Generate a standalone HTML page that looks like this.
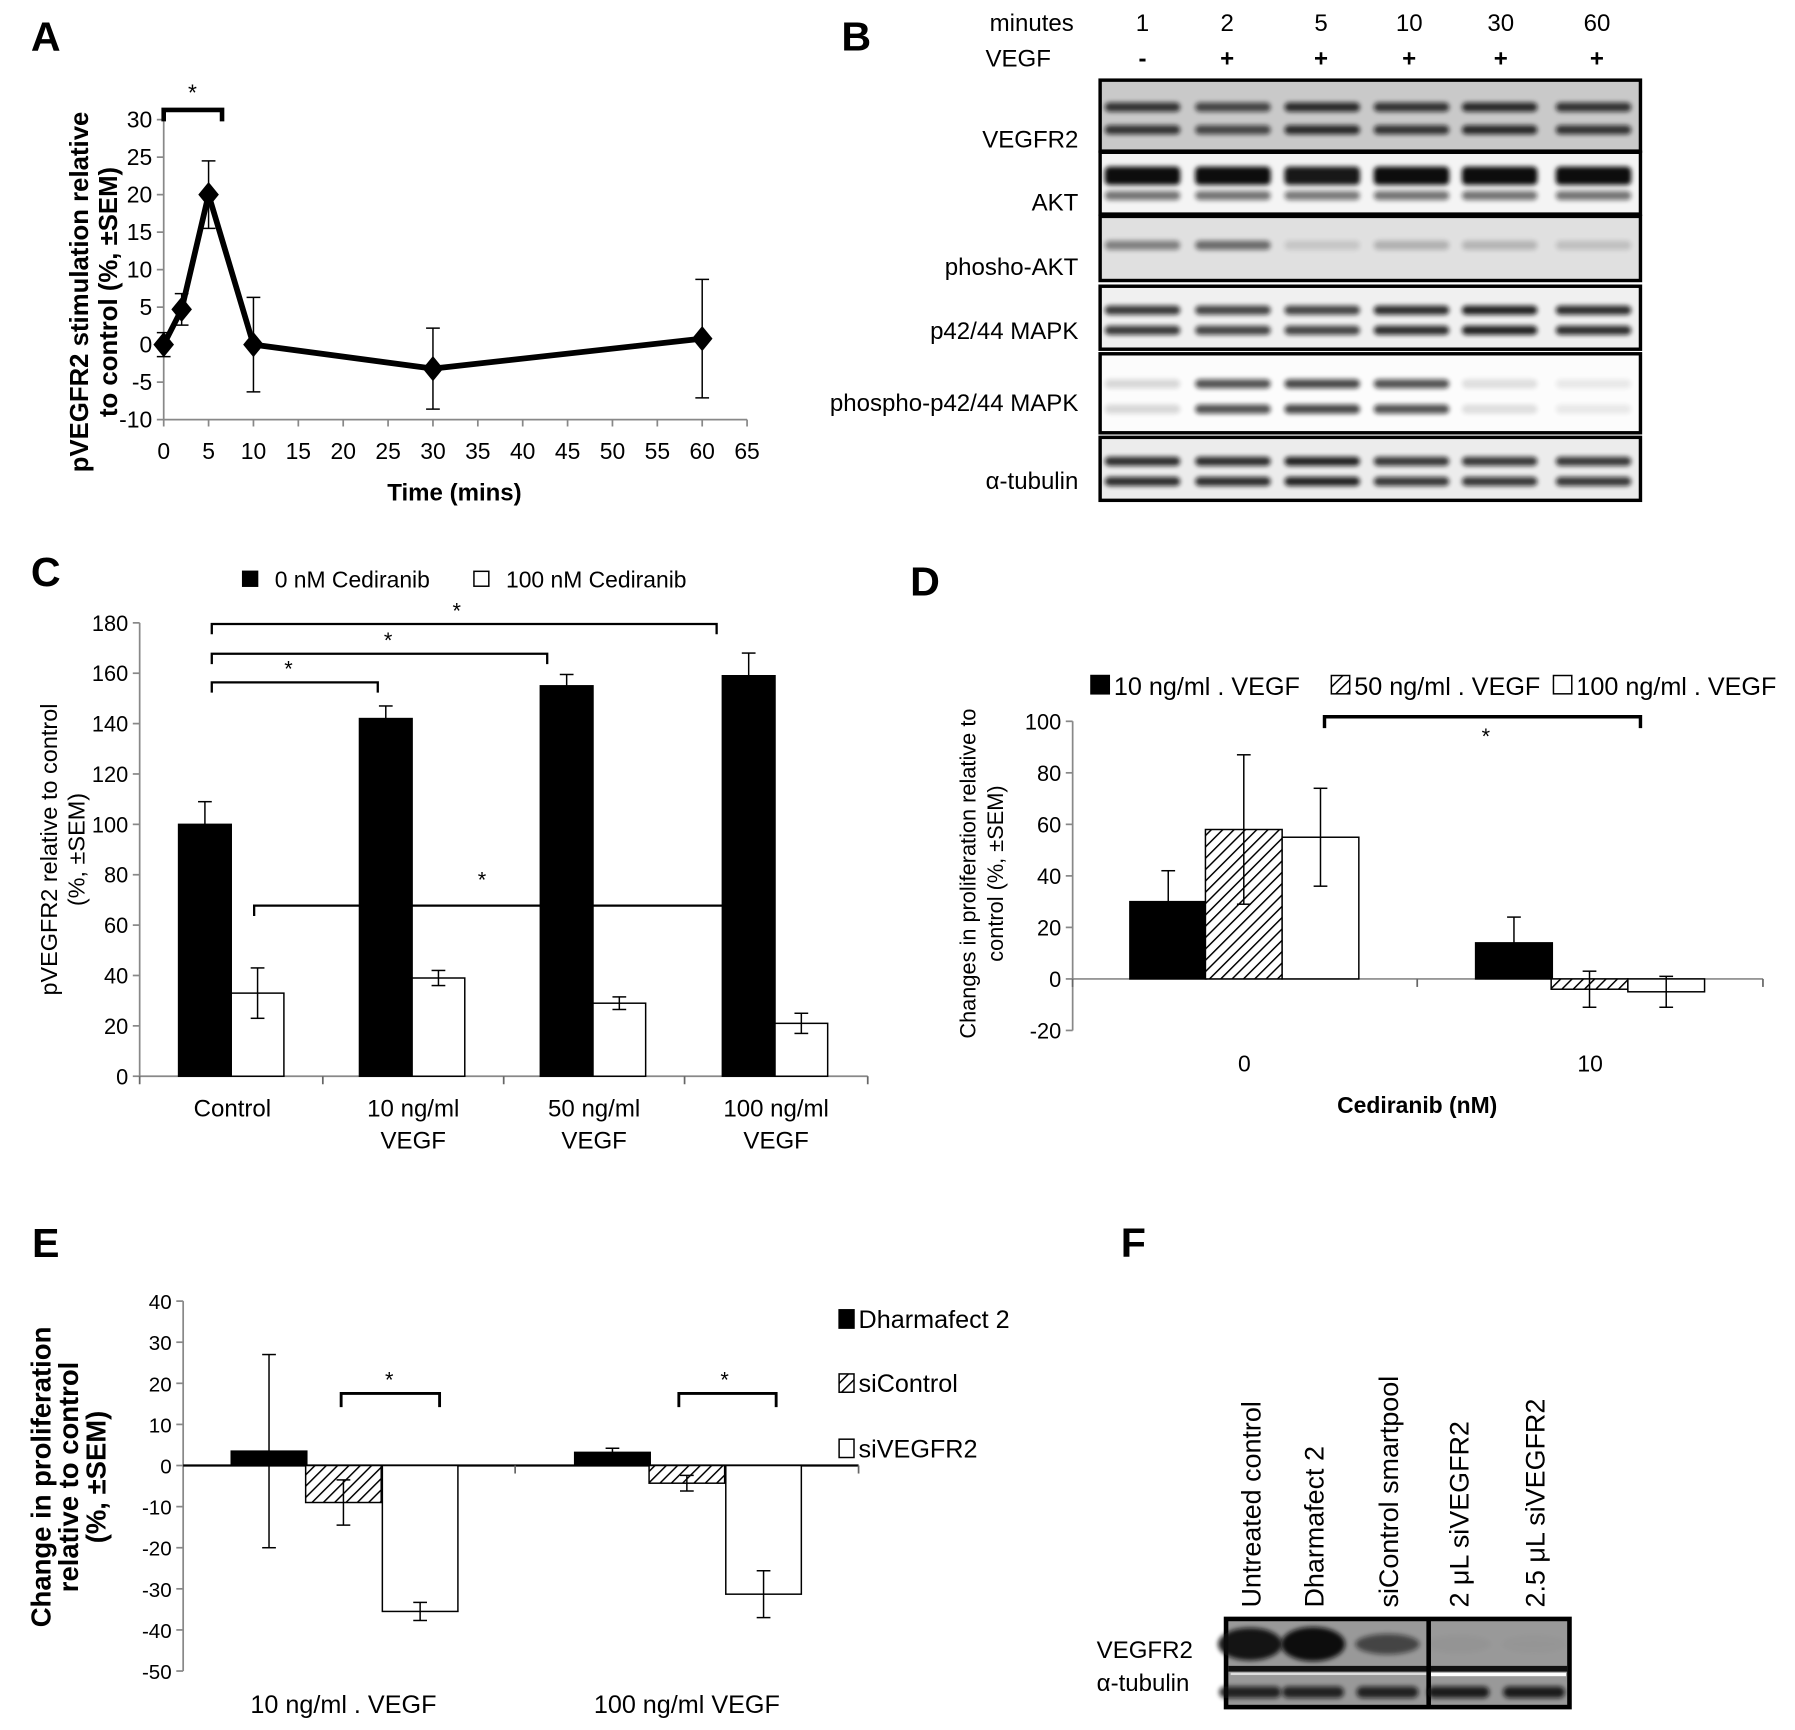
<!DOCTYPE html>
<html><head><meta charset="utf-8">
<style>
html,body{margin:0;padding:0;background:#fff;}
svg{display:block;font-family:"Liberation Sans",sans-serif;}
</style></head>
<body>
<svg id="fig" width="1795" height="1730" viewBox="0 0 1568 1511" preserveAspectRatio="none" xmlns="http://www.w3.org/2000/svg">
<defs>
<pattern id="hatch" patternUnits="userSpaceOnUse" width="7" height="7" patternTransform="rotate(45)">
<rect width="7" height="7" fill="#fff"/><line x1="0" y1="0" x2="0" y2="7" stroke="#000" stroke-width="2.6"/>
</pattern>
<filter id="blur" x="-20%" y="-50%" width="140%" height="200%"><feGaussianBlur stdDeviation="2.2"/></filter>
</defs>
<g id="root"></g>
</svg>
<script>
// ---------- Panel A data ----------
const aTimes = [0, 2, 5, 10, 30, 60];
const aValues = [0, 4.7, 20, 0, -3.2, 0.8];
const aErrors = [1.6, 2.1, 4.5, 6.3, 5.4, 7.9];
const aYTicks = [-10, -5, 0, 5, 10, 15, 20, 25, 30];
const aXTicks = [0, 5, 10, 15, 20, 25, 30, 35, 40, 45, 50, 55, 60, 65];
// ---------- Panel B data ----------
const bMinutes = ["1", "2", "5", "10", "30", "60"];
const bVegf = ["-", "+", "+", "+", "+", "+"];
const bRows = ["VEGFR2", "AKT", "phosho-AKT", "p42/44 MAPK", "phospho-p42/44 MAPK", "α-tubulin"];
const bIntensity = [
  [0.8, 0.7, 0.85, 0.8, 0.85, 0.8],
  [1, 1, 0.95, 1, 1, 1],
  [0.45, 0.55, 0.12, 0.22, 0.2, 0.15],
  [0.8, 0.75, 0.75, 0.85, 0.9, 0.85],
  [0.15, 0.7, 0.75, 0.7, 0.12, 0.08],
  [0.85, 0.85, 0.9, 0.8, 0.8, 0.8]
];
// ---------- Panel C data ----------
const cCategories = [["Control"], ["10 ng/ml", "VEGF"], ["50 ng/ml", "VEGF"], ["100 ng/ml", "VEGF"]];
const cSeriesNames = ["0 nM Cediranib", "100 nM Cediranib"];
const cValues0 = [100, 142, 155, 159];
const cErrors0 = [9, 5, 4.5, 9];
const cValues100 = [33, 39, 29, 21];
const cErrors100 = [10, 3, 2.5, 4];
const cYTicks = [0, 20, 40, 60, 80, 100, 120, 140, 160, 180];
// ---------- Panel D data ----------
const dCategories = ["0", "10"];
const dSeriesNames = ["10 ng/ml . VEGF", "50 ng/ml . VEGF", "100 ng/ml . VEGF"];
const dValues10 = [30, 14];
const dErrors10 = [12, 10];
const dValues50 = [58, -4];
const dErrors50 = [29, 7];
const dValues100 = [55, -5];
const dErrors100 = [19, 6];
const dYTicks = [-20, 0, 20, 40, 60, 80, 100];
// ---------- Panel E data ----------
const eCategories = ["10 ng/ml . VEGF", "100 ng/ml  VEGF"];
const eSeriesNames = ["Dharmafect 2", "siControl", "siVEGFR2"];
const eValuesDh = [3.5, 3.2];
const eErrorsDh = [23.5, 1];
const eValuesSiC = [-9, -4.3];
const eErrorsSiC = [5.5, 1.9];
const eValuesSiV = [-35.5, -31.3];
const eErrorsSiV = [2.2, 5.7];
const eYTicks = [-50, -40, -30, -20, -10, 0, 10, 20, 30, 40];
// ---------- Panel F data ----------
const fLanes = ["Untreated control", "Dharmafect 2", "siControl smartpool", "2 μL siVEGFR2", "2.5 μL siVEGFR2"];
const fVegfr2 = [0.95, 1, 0.6, 0.03, 0.02];
const fTubulin = [0.85, 0.85, 0.85, 0.9, 0.9];

const NS = "http://www.w3.org/2000/svg";
const root = document.getElementById("root");
function el(tag, attrs, parent) {
  const e = document.createElementNS(NS, tag);
  for (const k in attrs) e.setAttribute(k, attrs[k]);
  (parent || root).appendChild(e);
  return e;
}
function txt(s, x, y, size, opts, parent) {
  const a = Object.assign({x: x, y: y, "font-size": size, fill: "#000"}, opts || {});
  const t = el("text", a, parent);
  t.textContent = s;
  return t;
}

[["A", 40, 44], ["B", 748, 44], ["C", 40, 512], ["D", 808, 520], ["E", 40, 1098], ["F", 990, 1098]].forEach(p => {
  const t = txt(p[0], p[1], p[2], 36, {"font-weight": "bold", "text-anchor": "middle"});
  
  
});

function errBar(g, x, y1, y2, cap) {
  el("line", {x1: x, x2: x, y1: y1, y2: y2, stroke: "#000", "stroke-width": 1.3}, g);
  el("line", {x1: x - cap, x2: x + cap, y1: y1, y2: y1, stroke: "#000", "stroke-width": 1.3}, g);
  el("line", {x1: x - cap, x2: x + cap, y1: y2, y2: y2, stroke: "#000", "stroke-width": 1.3}, g);
}
function bracket(g, x1, x2, y, drop, sw) {
  el("path", {d: `M${x1},${y + drop} V${y} H${x2} V${y + drop}`, fill: "none", stroke: "#000", "stroke-width": sw || 2}, g);
}

// ================= Panel A =================
(function () {
  const g = el("g", {});
  
  
  const x0 = 143, xPer = 39.2 / 5, y0 = 301, yPer = 32.75 / 5;
  const X = v => x0 + v * xPer, Y = v => y0 - v * yPer;
  el("line", {x1: x0, x2: x0, y1: Y(30), y2: Y(-10), stroke: "#888", "stroke-width": 1.5}, g);
  el("line", {x1: x0, x2: X(65), y1: Y(-10), y2: Y(-10), stroke: "#888", "stroke-width": 1.5}, g);
  aYTicks.forEach(v => {
    el("line", {x1: x0 - 6, x2: x0, y1: Y(v), y2: Y(v), stroke: "#888", "stroke-width": 1.5}, g);
    const t = txt(String(v), x0 - 10, Y(v) + 7, 20, {"text-anchor": "end"}, g);
    
    
  });
  aXTicks.forEach(v => {
    el("line", {x1: X(v), x2: X(v), y1: Y(-10), y2: Y(-10) + 6, stroke: "#888", "stroke-width": 1.5}, g);
    const t = txt(String(v), X(v), 401, 20, {"text-anchor": "middle"}, g);
    
    
  });
  const xt = txt("Time (mins)", 397, 437, 21, {"text-anchor": "middle", "font-weight": "bold"}, g);
  
  
  const yt1 = txt("pVEGFR2 stimulation relative", 0, 0, 22.5, {"text-anchor": "middle", "font-weight": "bold", transform: "translate(77,255) rotate(-90)"}, g);
  
  
  const yt2 = txt("to  control (%, ±SEM)", 0, 0, 22.5, {"text-anchor": "middle", "font-weight": "bold", transform: "translate(102,255) rotate(-90)"}, g);
  
  
  aTimes.forEach((t, i) => {
    errBar(g, X(t), Y(aValues[i] + aErrors[i]), Y(aValues[i] - aErrors[i]), 6);
  });
  const line = el("polyline", {points: aTimes.map((t, i) => X(t) + "," + Y(aValues[i])).join(" "), fill: "none", stroke: "#000", "stroke-width": 5, "stroke-linejoin": "round"}, g);
  
  
  aTimes.forEach((t, i) => {
    const cx = X(t), cy = Y(aValues[i]);
    const d = el("polygon", {points: `${cx},${cy - 11} ${cx + 9},${cy} ${cx},${cy + 11} ${cx - 9},${cy}`, fill: "#000"}, g);
    
    
  });
  bracket(g, X(0), X(6.5), 96, 10, 4);
  const s = txt("*", X(3.2), 88, 20, {"text-anchor": "middle"}, g);
  
  
})();

// ================= Panel B =================
(function () {
  const g = el("g", {});
  
  
  const laneX = [998, 1077, 1155, 1233, 1310, 1392];
  const headX = [998, 1072, 1154, 1231, 1311, 1395];
  const h1 = txt("minutes", 938, 27, 21, {"text-anchor": "end"}, g);
  
  
  const h2 = txt("VEGF", 918, 58, 21, {"text-anchor": "end"}, g);
  
  
  bMinutes.forEach((m, i) => {
    const t = txt(m, headX[i], 27, 21, {"text-anchor": "middle"}, g);
    
    
    const v = txt(bVegf[i], headX[i], 58, 21, {"text-anchor": "middle", "font-weight": "bold"}, g);
    
    
  });
  const boxes = [[70, 132, 0xc9], [133, 187, 0xf4], [189, 245, 0xe0], [250, 305, 0xf0], [309, 378, 0xfc], [382, 437, 0xec]];
  const labelY = [129, 184, 240, 296, 359, 427];
  const twoBands = [true, true, false, true, true, true];
  boxes.forEach((b, r) => {
    const bg = b[2];
    const col = `rgb(${bg},${bg},${bg})`;
    const rect = el("rect", {x: 961, y: b[0], width: 472, height: b[1] - b[0], fill: col, stroke: "#000", "stroke-width": 3}, g);
    
    
    const lab = txt(bRows[r], 942, labelY[r], 21, {"text-anchor": "end"}, g);
    
    
    const hgt = b[1] - b[0];
    laneX.forEach((x, i) => {
      const a = bIntensity[r][i];
      const ys = twoBands[r] ? [b[0] + hgt * 0.38, b[0] + hgt * 0.7] : [b[0] + hgt * 0.45];
      ys.forEach((y, k) => {
        const bandH = r === 1 && k === 0 ? 16 : 8;
        const op = r === 1 && k === 1 ? a * 0.55 : a;
        const band = el("rect", {x: x - 33, y: y - bandH / 2, width: 66, height: bandH, rx: 4, fill: "#111", opacity: op, filter: "url(#blur)"}, g);
        
        
      });
    });
  });
})();

// ================= Generic bar chart =================
function barChart(cfg) {
  const g = el("g", {});
  
  
  const Y = v => cfg.yZero - v * cfg.yPer;
  el("line", {x1: cfg.axisX, x2: cfg.axisX, y1: Y(cfg.yTicks[cfg.yTicks.length - 1]), y2: Y(cfg.yTicks[0]), stroke: "#888", "stroke-width": 1.5}, g);
  cfg.yTicks.forEach(v => {
    el("line", {x1: cfg.axisX - 6, x2: cfg.axisX, y1: Y(v), y2: Y(v), stroke: "#888", "stroke-width": 1.5}, g);
    const t = txt(String(v), cfg.axisX - 10, Y(v) + 7, cfg.tickSize, {"text-anchor": "end"}, g);
    
    
  });
  const xAxisY = cfg.xAxisAt;
  el("line", {x1: cfg.axisX, x2: cfg.axisEnd, y1: xAxisY, y2: xAxisY, stroke: cfg.xAxisColor, "stroke-width": cfg.xAxisW}, g);
  cfg.xTicks.forEach(x => el("line", {x1: x, x2: x, y1: xAxisY, y2: xAxisY + 7, stroke: "#666", "stroke-width": 1.5}, g));
  cfg.series.forEach((s, si) => {
    s.values.forEach((v, ci) => {
      const x = cfg.centers[ci] + cfg.offsets[si];
      const top = Math.min(Y(v), Y(0)), h = Math.abs(Y(v) - Y(0));
      const r = el("rect", {x: x, y: top, width: cfg.barW, height: h, fill: s.fill, stroke: "#000", "stroke-width": 1.3}, g);
      
      
    });
  });
  cfg.series.forEach((s, si) => {
    s.values.forEach((v, ci) => {
      const x = cfg.centers[ci] + cfg.offsets[si] + cfg.barW / 2;
      const e = s.errors[ci];
      errBar(g, x, Y(v + e), Y(v - e), 6);
    });
  });
  return {g: g, Y: Y};
}

// ================= Panel C =================
(function () {
  const r = barChart({
    name: 'panel-c-bar-chart', prefix: 'c', axisX: 122, axisEnd: 758, yZero: 940, yPer: 2.2,
    yTicks: cYTicks, tickSize: 19, xAxisAt: 940, xAxisColor: "#888", xAxisW: 1.5,
    xTicks: [122, 282, 440, 598, 758], centers: [203, 361, 519, 678], offsets: [-47, -1], barW: 46,
    series: [{values: cValues0, errors: cErrors0, fill: "#000"}, {values: cValues100, errors: cErrors100, fill: "#fff"}]
  });
  const g = r.g;
  const centers = [203, 361, 519, 678];
  cCategories.forEach((lines, i) => {
    lines.forEach((l, k) => {
      const t = txt(l, centers[i], 975 + k * 28, 21, {"text-anchor": "middle"}, g);
      
      
    });
  });
  const yt1 = txt("pVEGFR2 relative to control", 0, 0, 20.5, {"text-anchor": "middle", transform: "translate(50,742) rotate(-90)"}, g);
  
  
  const yt2 = txt("(%, ±SEM)", 0, 0, 20.5, {"text-anchor": "middle", transform: "translate(74,742) rotate(-90)"}, g);
  
  
  const fills = ["#000", "#fff"], lx = [212, 414];
  cSeriesNames.forEach((n, i) => {
    const sq = el("rect", {x: lx[i], y: 499, width: 13, height: 13, fill: fills[i], stroke: "#000", "stroke-width": 1.3}, g);
    
    
    const t = txt(n, lx[i] + 28, 513, 20, {}, g);
    
    
  });
  bracket(g, 185, 330, 596, 9, 2);
  bracket(g, 185, 478, 571, 9, 2);
  bracket(g, 185, 626, 545, 9, 2);
  el("path", {d: "M222,800 V791 H632", fill: "none", stroke: "#000", "stroke-width": 2}, g);
  [[252, 596], [339, 571], [399, 545], [421, 780]].forEach(p => {
    const s = txt("*", p[0], p[1] - 5, 19, {"text-anchor": "middle"}, g);
    
    
  });
})();

// ================= Panel D =================
(function () {
  const r = barChart({
    name: 'panel-d-bar-chart', prefix: 'd', axisX: 937, axisEnd: 1540, yZero: 855, yPer: 2.25,
    yTicks: dYTicks, tickSize: 19, xAxisAt: 855, xAxisColor: "#888", xAxisW: 1.5,
    xTicks: [937, 1238, 1540], centers: [1087, 1389], offsets: [-100, -34, 33], barW: 67,
    series: [{values: dValues10, errors: dErrors10, fill: "#000"}, {values: dValues50, errors: dErrors50, fill: "url(#hatch)"}, {values: dValues100, errors: dErrors100, fill: "#fff"}]
  });
  const g = r.g;
  dCategories.forEach((c, i) => {
    const t = txt(c, [1087, 1389][i], 936, 20, {"text-anchor": "middle"}, g);
    
    
  });
  const xt = txt("Cediranib (nM)", 1238, 972, 20, {"text-anchor": "middle", "font-weight": "bold"}, g);
  
  
  const yt1 = txt("Changes in proliferation relative to", 0, 0, 19, {"text-anchor": "middle", transform: "translate(852,763) rotate(-90)"}, g);
  
  
  const yt2 = txt("control (%, ±SEM)", 0, 0, 19, {"text-anchor": "middle", transform: "translate(876,763) rotate(-90)"}, g);
  
  
  const fills = ["#000", "url(#hatch)", "#fff"], lx = [953, 1163, 1357];
  dSeriesNames.forEach((n, i) => {
    const sq = el("rect", {x: lx[i], y: 590, width: 16, height: 16, fill: fills[i], stroke: "#000", "stroke-width": 1.3}, g);
    
    
    const t = txt(n, lx[i] + 20, 607, 22, {}, g);
    
    
  });
  bracket(g, 1157, 1433, 626, 10, 3);
  const s = txt("*", 1298, 650, 19, {"text-anchor": "middle"}, g);
  
  
})();

// ================= Panel E =================
(function () {
  const r = barChart({
    name: 'panel-e-bar-chart', prefix: 'e', axisX: 160, axisEnd: 750, yZero: 1280, yPer: 3.59,
    yTicks: eYTicks, tickSize: 18, xAxisAt: 1280, xAxisColor: "#000", xAxisW: 2,
    xTicks: [450, 750], centers: [300, 600], offsets: [-98, -33, 34], barW: 66,
    series: [{values: eValuesDh, errors: eErrorsDh, fill: "#000"}, {values: eValuesSiC, errors: eErrorsSiC, fill: "url(#hatch)"}, {values: eValuesSiV, errors: eErrorsSiV, fill: "#fff"}]
  });
  const g = r.g;
  eCategories.forEach((c, i) => {
    const t = txt(c, [300, 600][i], 1496, 22, {"text-anchor": "middle"}, g);
    
    
  });
  const ys = [["Change in proliferation", 44], ["relative to control", 68], ["(%, ±SEM)", 92]];
  ys.forEach((l, k) => {
    const t = txt(l[0], 0, 0, 24, {"text-anchor": "middle", "font-weight": "bold", transform: `translate(${l[1]},1290) rotate(-90)`}, g);
    
    
  });
  const fills = ["#000", "url(#hatch)", "#fff"], ly = [1152, 1208, 1265];
  eSeriesNames.forEach((n, i) => {
    const sq = el("rect", {x: 733, y: ly[i] - 8, width: 13, height: 16, fill: fills[i], stroke: "#000", "stroke-width": 1.3}, g);
    
    
    const t = txt(n, 750, ly[i] + 8, 22, {}, g);
    
    
  });
  bracket(g, 298, 384, 1217, 12, 2.5);
  bracket(g, 593, 678, 1217, 12, 2.5);
  [[340, 1212], [633, 1212]].forEach(p => {
    const s = txt("*", p[0], p[1], 19, {"text-anchor": "middle"}, g);
    
    
  });
})();

// ================= Panel F =================
(function () {
  const g = el("g", {});
  
  
  const laneX = [1092, 1147, 1212, 1274, 1340];
  fLanes.forEach((n, i) => {
    const t = txt(n, 0, 0, 23.5, {transform: `translate(${laneX[i] + 9},1404) rotate(-90)`}, g);
    
    
  });
  const outer = el("rect", {x: 1071, y: 1414, width: 300, height: 77, fill: "#999", stroke: "#000", "stroke-width": 4}, g);
  
  
  el("rect", {x: 1073, y: 1455, width: 296, height: 5, fill: "#111"}, g);
  el("rect", {x: 1075, y: 1461, width: 171, height: 2, fill: "#ddd"}, g);
  el("rect", {x: 1250, y: 1461, width: 118, height: 3, fill: "#fff"}, g);
  el("rect", {x: 1246, y: 1414, width: 4, height: 77, fill: "#000"}, g);
  laneX.forEach((x, i) => {
    const b = el("ellipse", {cx: x, cy: 1436, rx: 28, ry: 15 * Math.max(fVegfr2[i], 0.5), fill: "#111", opacity: fVegfr2[i], filter: "url(#blur)"}, g);
    
    
    const t = el("rect", {x: x - 27, y: 1473, width: 54, height: 10, rx: 5, fill: "#111", opacity: fTubulin[i], filter: "url(#blur)"}, g);
    
    
  });
  const l1 = txt("VEGFR2", 958, 1448, 21, {}, g);
  
  
  const l2 = txt("α-tubulin", 958, 1477, 21, {}, g);
  
  
})();
</script>
</body></html>
